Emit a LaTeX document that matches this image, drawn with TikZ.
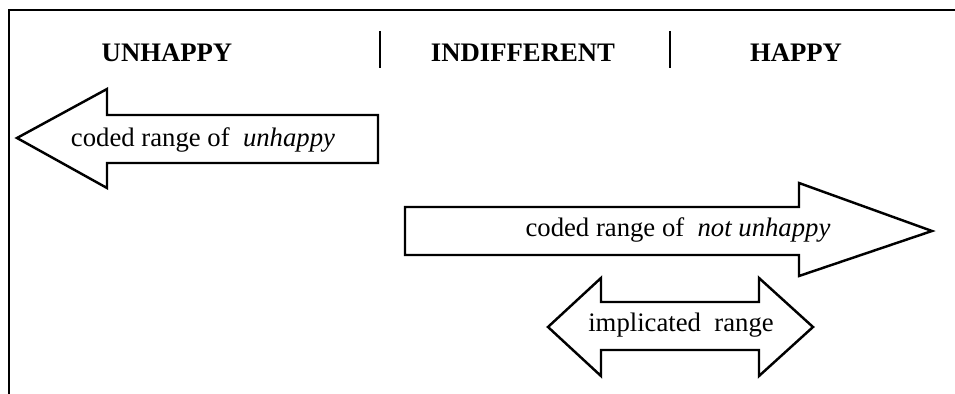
\documentclass[tikz,border=0pt]{standalone}
\usepackage{fontspec}
\setmainfont{Liberation Serif}
\usepackage{tikz}
\usetikzlibrary{arrows.meta}

\begin{document}
\begin{tikzpicture}[
    heading/.style={anchor=base, font=\fontsize{15.2}{18}\selectfont\bfseries},
    rangetext/.style={anchor=base, font=\fontsize{15.2}{18}\selectfont},
    outline/.style={line width=1.4pt, line join=miter}
  ]
    \useasboundingbox (0,0) rectangle (19.1,7.88);
    \coordinate (F) at (0.18,7.68);
    \draw [line width=0.7pt] (0.18,0) -- (F) -- (19.1,7.68);
    \node [heading] (unhappy) at (3.34,6.64) {UNHAPPY};
    \node [heading] (indiff) at (10.46,6.64) {INDIFFERENT};
    \node [heading] (happy) at (15.92,6.64) {HAPPY};
    \draw [line width=1.7pt] (7.6,7.26) -- (7.6,6.52);
    \draw [line width=1.7pt] (13.4,7.26) -- (13.4,6.52);
    % coded range of unhappy
    \draw [outline] (0.34,5.12) -- (2.14,6.10) -- (2.14,5.58) -- (7.56,5.58)
        -- (7.56,4.62) -- (2.14,4.62) -- (2.14,4.12) -- cycle;
    \node [rangetext] (neg) at (4.06,4.94) {coded range of \ \textit{unhappy}};
    % coded range of not unhappy
    \draw [outline] (8.10,3.74) -- (15.98,3.74) -- (15.98,4.22) -- (18.64,3.26)
        -- (15.98,2.36) -- (15.98,2.78) -- (8.10,2.78) -- cycle;
    \node [rangetext] (notneg) at (13.56,3.14) {coded range of \ \textit{not unhappy}};
    % implicated range
    \draw [outline] (10.96,1.34) -- (12.02,2.32) -- (12.02,1.84) -- (15.18,1.84)
        -- (15.18,2.32) -- (16.26,1.34) -- (15.18,0.36) -- (15.18,0.88)
        -- (12.02,0.88) -- (12.02,0.36) -- cycle;
    \node [rangetext] (impl) at (13.62,1.24) {implicated \ range};
\end{tikzpicture}
\end{document}
